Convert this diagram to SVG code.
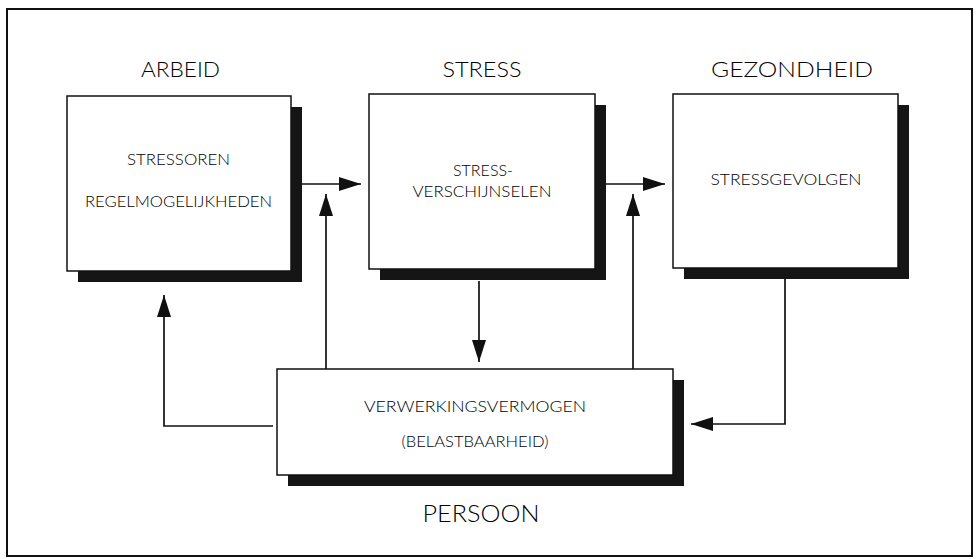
<svg xmlns="http://www.w3.org/2000/svg" width="978" height="559" viewBox="0 0 978 559">
<defs>
<marker id="arr" viewBox="0 0 22 14" refX="22" refY="7" markerWidth="22" markerHeight="14" orient="auto" markerUnits="userSpaceOnUse">
<path d="M0,0 L22,7 L0,14 z" fill="#111"/>
</marker>
<style>
.box{fill:#fff;stroke:#111;stroke-width:1.5}
.shadow{fill:#151515}
.t{font-family:Lato,"Liberation Sans",Arial,sans-serif;font-weight:300;fill:#000;text-anchor:middle}
.title{font-size:22px}
.small{font-size:16px}
.con{fill:none;stroke:#111;stroke-width:1.7}
.frame{fill:#fff;stroke:#111;stroke-width:2}
</style>
</defs>
<rect width="978" height="559" fill="#fff"/>
<rect class="frame" x="7" y="9" width="965" height="547"/>

<g id="arbeid">
<rect class="shadow" x="78" y="107" width="224" height="175"/>
<rect class="box" x="67" y="96" width="224" height="175"/>
<text class="t title" x="180.5" y="77" textLength="79" lengthAdjust="spacingAndGlyphs">ARBEID</text>
<text class="t small" x="178.5" y="165" textLength="103" lengthAdjust="spacingAndGlyphs">STRESSOREN</text>
<text class="t small" x="178.5" y="207" textLength="187" lengthAdjust="spacingAndGlyphs">REGELMOGELIJKHEDEN</text>
</g>

<g id="stress">
<rect class="shadow" x="380" y="105" width="226" height="175"/>
<rect class="box" x="369" y="94" width="226" height="175"/>
<text class="t title" x="482" y="77" textLength="79" lengthAdjust="spacingAndGlyphs">STRESS</text>
<text class="t small" x="483" y="176" textLength="60" lengthAdjust="spacingAndGlyphs">STRESS-</text>
<text class="t small" x="482" y="197" textLength="139" lengthAdjust="spacingAndGlyphs">VERSCHIJNSELEN</text>
</g>

<g id="gezondheid">
<rect class="shadow" x="684" y="105" width="225" height="174"/>
<rect class="box" x="673" y="94" width="225" height="174"/>
<text class="t title" x="792" y="77" textLength="162" lengthAdjust="spacingAndGlyphs">GEZONDHEID</text>
<text class="t small" x="786" y="185" textLength="151" lengthAdjust="spacingAndGlyphs">STRESSGEVOLGEN</text>
</g>

<g id="persoon">
<rect class="shadow" x="288" y="380" width="396" height="106"/>
<rect class="box" x="277" y="369" width="396" height="106"/>
<text class="t small" x="475" y="412" textLength="222" lengthAdjust="spacingAndGlyphs">VERWERKINGSVERMOGEN</text>
<text class="t small" x="475" y="447" textLength="147" lengthAdjust="spacingAndGlyphs">(BELASTBAARHEID)</text>
<text class="t" x="481" y="522" font-size="24" textLength="117" lengthAdjust="spacingAndGlyphs">PERSOON</text>
</g>

<g id="connectors">
<path class="con" d="M302,184 H361" marker-end="url(#arr)"/>
<path class="con" d="M606,184 H665" marker-end="url(#arr)"/>
<path class="con" d="M326,369 V194" marker-end="url(#arr)"/>
<path class="con" d="M633,369 V194" marker-end="url(#arr)"/>
<path class="con" d="M479,281 V362" marker-end="url(#arr)"/>
<path class="con" d="M785,279 V424 H691" marker-end="url(#arr)"/>
<path class="con" d="M273,426 H164 V295" marker-end="url(#arr)"/>
</g>
</svg>
